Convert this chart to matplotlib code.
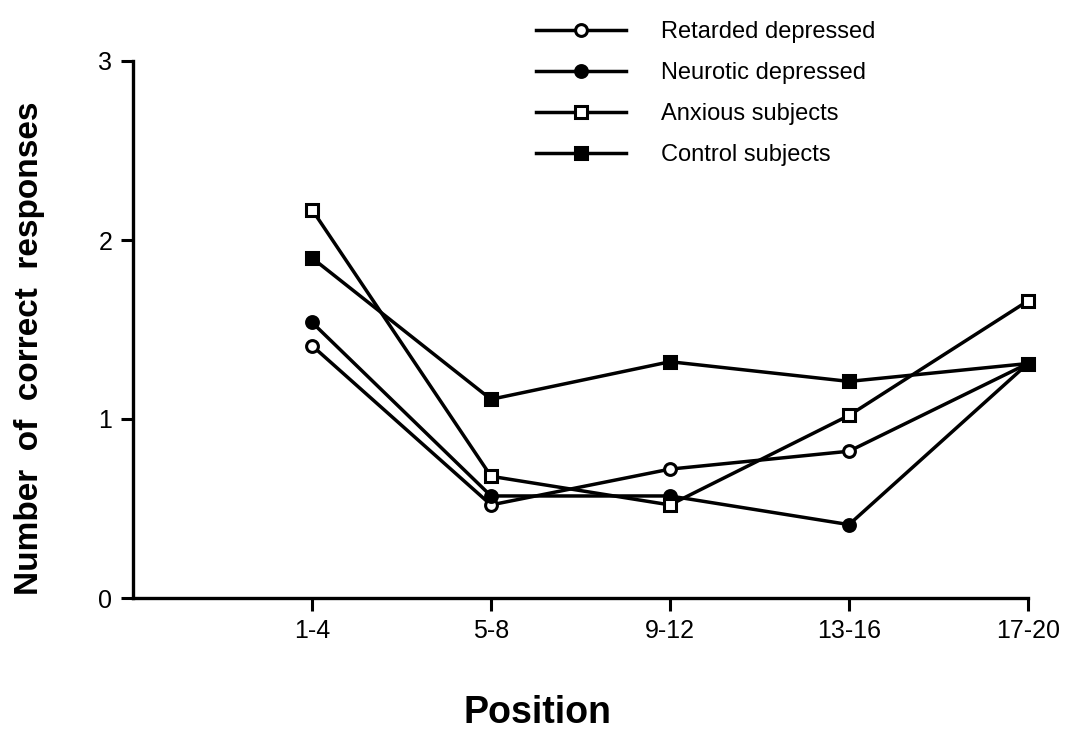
import matplotlib
matplotlib.use('Agg')
import matplotlib.pyplot as plt
import numpy as np

plt.rcParams['font.family'] = ['Liberation Sans', 'DejaVu Sans']

# DATA
positions = ['1-4', '5-8', '9-12', '13-16', '17-20']
retarded = [1.41, 0.52, 0.72, 0.82, 1.31]
neurotic = [1.54, 0.57, 0.57, 0.41, 1.31]
anxious = [2.17, 0.68, 0.52, 1.02, 1.66]
control = [1.90, 1.11, 1.32, 1.21, 1.31]

x = np.arange(1, len(positions) + 1)

fig = plt.figure(figsize=(10.74, 7.55), dpi=100)
ax = fig.add_axes([133/1074, 1 - 598/755, (1028 - 133)/1074, (598 - 61)/755])

lw = 2.5
ms = 8.5
ax.plot(x, retarded, '-o', color='black', lw=lw, ms=ms, mfc='white', mew=2.2, label='Retarded depressed')
ax.plot(x, neurotic, '-o', color='black', lw=lw, ms=ms, mfc='black', mew=2.2, label='Neurotic depressed')
ax.plot(x, anxious, '-s', color='black', lw=lw, ms=ms, mfc='white', mew=2.2, label='Anxious subjects')
ax.plot(x, control, '-s', color='black', lw=lw, ms=ms, mfc='black', mew=2.2, label='Control subjects')

ax.set_xlim(0, 5)
ax.set_ylim(0, 3)
ax.set_xticks(x)
ax.set_xticklabels(positions)
ax.set_yticks([0, 1, 2, 3])
ax.spines['top'].set_visible(False)
ax.spines['right'].set_visible(False)
ax.spines['left'].set_linewidth(2.4)
ax.spines['bottom'].set_linewidth(2.4)
ax.tick_params(axis='both', labelsize=18, width=2.2, length=9, pad=6)
for sp in ['left', 'bottom']:
    ax.spines[sp].set_clip_on(False)
for ln in ax.lines:
    ln.set_clip_on(False)

ax.set_ylabel('Number  of  correct  responses', fontsize=24, fontweight='bold')
ax.yaxis.set_label_coords(-0.098, 0.465)
fig.text(0.5, 0.055, 'Position', fontsize=27, fontweight='bold', ha='center', va='center')

ax.legend(loc='upper left', bbox_to_anchor=(515/1074, 1.0), bbox_transform=fig.transFigure,
          frameon=False, fontsize=17, handlelength=3.8, handletextpad=1.5, labelspacing=0.8)

fig.savefig('out.png', dpi=100)
